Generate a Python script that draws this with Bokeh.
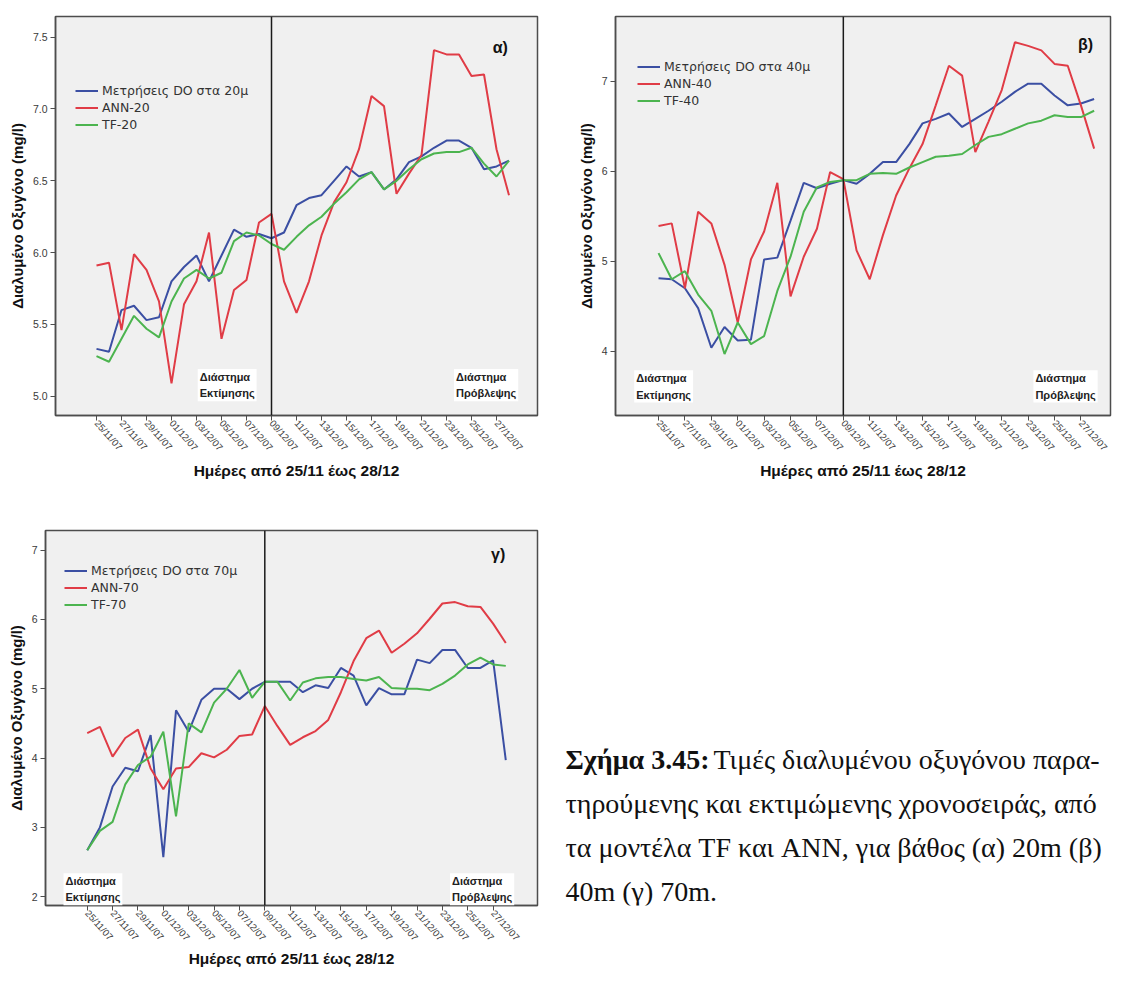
import math
from bokeh.plotting import figure
from bokeh.layouts import row, column
from bokeh.models import Range1d, FixedTicker, Span, Label, Legend, LegendItem
from bokeh.embed import file_html
from bokeh.resources import INLINE

# ---------------- data ----------------
dates = ["25/11/07", "26/11/07", "27/11/07", "28/11/07", "29/11/07", "30/11/07",
         "01/12/07", "02/12/07", "03/12/07", "04/12/07", "05/12/07", "06/12/07",
         "07/12/07", "08/12/07", "09/12/07", "10/12/07", "11/12/07", "12/12/07",
         "13/12/07", "14/12/07", "15/12/07", "16/12/07", "17/12/07", "18/12/07",
         "19/12/07", "20/12/07", "21/12/07", "22/12/07", "23/12/07", "24/12/07",
         "25/12/07", "26/12/07", "27/12/07", "28/12/07"]
tick_labels = dates[0:33:2]
split_date = "09/12/07"

do20 = [5.33, 5.31, 5.60, 5.63, 5.53, 5.55, 5.80, 5.90, 5.98, 5.80, 5.98, 6.16,
        6.11, 6.13, 6.10, 6.14, 6.33, 6.38, 6.40, 6.50, 6.60, 6.53, 6.56, 6.44,
        6.51, 6.63, 6.67, 6.73, 6.78, 6.78, 6.73, 6.58, 6.60, 6.64]
ann20 = [5.91, 5.93, 5.46, 5.99, 5.88, 5.66, 5.09, 5.64, 5.80, 6.14, 5.40, 5.74,
         5.81, 6.21, 6.27, 5.80, 5.58, 5.80, 6.12, 6.35, 6.49, 6.72, 7.09, 7.02,
         6.41, 6.55, 6.68, 7.41, 7.38, 7.38, 7.23, 7.24, 6.72, 6.40]
tf20 = [5.28, 5.24, 5.40, 5.56, 5.47, 5.41, 5.66, 5.82, 5.88, 5.82, 5.86, 6.08,
        6.14, 6.12, 6.06, 6.02, 6.11, 6.19, 6.25, 6.34, 6.42, 6.51, 6.56, 6.44,
        6.50, 6.58, 6.65, 6.69, 6.70, 6.70, 6.73, 6.62, 6.53, 6.64]

do40 = [4.81, 4.80, 4.70, 4.48, 4.04, 4.27, 4.12, 4.13, 5.02, 5.04, 5.45, 5.87,
        5.81, 5.86, 5.90, 5.86, 5.97, 6.10, 6.10, 6.30, 6.53, 6.58, 6.64, 6.49,
        6.58, 6.67, 6.77, 6.88, 6.97, 6.97, 6.84, 6.73, 6.75, 6.80]
ann40 = [5.39, 5.42, 4.70, 5.55, 5.42, 4.96, 4.32, 5.02, 5.33, 5.87, 4.61, 5.05,
         5.36, 5.99, 5.91, 5.12, 4.80, 5.29, 5.73, 6.03, 6.30, 6.73, 7.17, 7.06,
         6.21, 6.55, 6.90, 7.43, 7.39, 7.34, 7.19, 7.17, 6.73, 6.25]
tf40 = [5.09, 4.80, 4.89, 4.63, 4.45, 3.97, 4.32, 4.08, 4.17, 4.67, 5.05, 5.55,
        5.82, 5.88, 5.90, 5.90, 5.97, 5.98, 5.97, 6.04, 6.10, 6.16, 6.17, 6.19,
        6.29, 6.38, 6.41, 6.47, 6.53, 6.56, 6.62, 6.60, 6.60, 6.67]

do70 = [2.67, 3.00, 3.59, 3.86, 3.81, 4.33, 2.57, 4.69, 4.38, 4.84, 5.00, 5.00,
        4.85, 5.00, 5.10, 5.10, 5.10, 4.95, 5.05, 5.01, 5.30, 5.19, 4.76, 5.01,
        4.92, 4.92, 5.42, 5.37, 5.56, 5.56, 5.30, 5.30, 5.41, 3.97]
ann70 = [4.36, 4.45, 4.02, 4.29, 4.41, 3.85, 3.55, 3.85, 3.87, 4.07, 4.01, 4.12,
         4.32, 4.34, 4.75, 4.46, 4.19, 4.30, 4.39, 4.55, 4.95, 5.40, 5.73, 5.84,
         5.52, 5.65, 5.80, 6.01, 6.23, 6.25, 6.19, 6.18, 5.94, 5.66]
tf70 = [2.67, 2.95, 3.08, 3.62, 3.90, 4.02, 4.38, 3.16, 4.50, 4.37, 4.80, 5.00,
        5.27, 4.87, 5.10, 5.10, 4.83, 5.09, 5.15, 5.17, 5.17, 5.14, 5.12, 5.17,
        5.01, 5.00, 5.00, 4.98, 5.07, 5.19, 5.35, 5.45, 5.35, 5.33]

y_title = "Διαλυμένο Οξυγόνο (mg/l)"
x_title = "Ημέρες από 25/11 έως 28/12"
est_text = "Διάστημα\nΕκτίμησης"
pred_text = "Διάστημα\nΠρόβλεψης"
caption_bold = "Σχήμα 3.45:"
caption_lines = ["Τιμές διαλυμένου οξυγόνου παρα-",
                 "τηρούμενης και εκτιμώμενης χρονοσειράς, από",
                 "τα μοντέλα TF και ANN, για βάθος (α) 20m (β)",
                 "40m (γ) 70m."]

# ---------------- style ----------------
BLUE = "#3b4fa3"
RED = "#e03c46"
GREEN = "#4cb44f"
BG = "#f0f0f0"
FRAME = "#4d4d4d"
SANS = "Liberation Sans"

x_idx = list(range(len(dates)))
tick_pos = [dates.index(t) for t in tick_labels]
split = dates.index(split_date)


def panel(width, height, xr, yr, yticks, fmt, borders, series, names, legend_loc,
          tag, tag_xy, est_xy, pred_xy, title_standoff):
    bl, br, bt, bb = borders
    p = figure(width=width, height=height, x_range=Range1d(*xr), y_range=Range1d(*yr),
               output_backend="svg", toolbar_location=None,
               min_border_left=bl, min_border_right=br, min_border_top=bt,
               min_border_bottom=bb)
    p.background_fill_color = BG
    p.border_fill_color = "white"
    p.outline_line_color = FRAME
    p.outline_line_width = 1.5
    p.xgrid.visible = False
    p.ygrid.visible = False
    for ax in (p.xaxis[0], p.yaxis[0]):
        ax.axis_line_color = FRAME
        ax.axis_line_width = 1.5
        ax.major_tick_line_color = FRAME
        ax.major_tick_out = 5
        ax.major_tick_in = 0
        ax.minor_tick_out = 0
        ax.minor_tick_in = 0
        ax.major_label_text_font = SANS
        ax.major_label_text_color = "#3a3a3a"
        ax.axis_label_text_font = SANS
        ax.axis_label_text_font_style = "bold"
        ax.axis_label_text_color = "#111111"
    xa = p.xaxis[0]
    xa.ticker = FixedTicker(ticks=tick_pos)
    xa.major_label_overrides = {pos: lab for pos, lab in zip(tick_pos, tick_labels)}
    xa.major_label_orientation = -0.84
    xa.major_label_text_font_size = "9.5px"
    xa.major_label_standoff = 1
    xa.axis_label = x_title
    xa.axis_label_text_font_size = "15.5px"
    xa.axis_label_standoff = title_standoff
    ya = p.yaxis[0]
    ya.ticker = FixedTicker(ticks=yticks)
    ya.major_label_overrides = {t: fmt.format(t) for t in yticks}
    ya.major_label_text_font_size = "10.5px"
    ya.major_label_standoff = 3
    ya.axis_label = y_title
    ya.axis_label_text_font_size = "15px"
    ya.axis_label_standoff = 4

    rends = []
    for ys, col in zip(series, (BLUE, RED, GREEN)):
        r = p.line(x_idx, ys, line_color=col, line_width=2)
        rends.append(r)
    p.add_layout(Span(location=split, dimension="height", line_color="#1a1a1a",
                      line_width=1.5))
    items = [LegendItem(label=n, renderers=[r]) for n, r in zip(names, rends)]
    leg = Legend(items=items, location=legend_loc, border_line_color=None,
                 background_fill_alpha=0, padding=0, margin=0, spacing=0,
                 glyph_width=23, glyph_height=17, label_height=17,
                 label_standoff=4, label_text_font="DejaVu Sans",
                 label_text_font_size="12.5px", label_text_color="#333333")
    p.add_layout(leg)
    p.add_layout(Label(x=tag_xy[0], y=tag_xy[1], text=tag, text_font=SANS,
                       text_font_style="bold", text_font_size="16px",
                       text_align="center", text_baseline="middle",
                       text_color="#111111"))
    for (lx, ly), txt in ((est_xy, est_text), (pred_xy, pred_text)):
        p.add_layout(Label(x=lx, y=ly, text=txt, text_font=SANS,
                           text_font_style="bold", text_font_size="11px",
                           text_align="left", text_baseline="top",
                           text_line_height=1.36, text_color="#222222",
                           background_fill_color="white", padding=2))
    return p


# row 1 : 482 px tall, row 2 : 488 px tall
pa = panel(560, 482, (-3.28, 35.28), (4.866, 7.644), [5.0, 5.5, 6.0, 6.5, 7.0, 7.5],
           "{:.1f}", (55, 23, 16, 66), (do20, ann20, tf20),
           ["Μετρήσεις DO στα 20μ", "ANN-20", "TF-20"], (20, 282),
           "α)", (32.3, 7.43), (8.1, 5.19), (28.6, 5.19), 3)
pb = panel(554, 482, (-3.26, 34.24), (3.288, 7.716), [4, 5, 6, 7],
           "{:d}", (55, 4, 16, 66), (do40, ann40, tf40),
           ["Μετρήσεις DO στα 40μ", "ANN-40", "TF-40"], (22, 306),
           "β)", (32.35, 7.40), (-1.84, 3.79), (28.4, 3.79), 3)
pc = panel(560, 488, (-3.29, 35.5), (1.873, 7.283), [2, 3, 4, 5, 6, 7],
           "{:d}", (45, 23, 48, 58), (do70, ann70, tf70),
           ["Μετρήσεις DO στα 70μ", "ANN-70", "TF-70"], (19, 292),
           "γ)", (32.4, 6.93), (-1.87, 2.34), (28.6, 2.34), 1)

# caption panel: frame aligned with panel γ; coordinates are page pixels
cap = figure(width=554, height=488, x_range=Range1d(560, 1114), y_range=Range1d(912, 530),
             output_backend="svg", toolbar_location=None, x_axis_location=None,
             y_axis_location=None, min_border_left=0, min_border_right=0,
             min_border_top=48, min_border_bottom=58)
cap.outline_line_color = None
cap.xgrid.visible = False
cap.ygrid.visible = False
cap.background_fill_color = "white"
cap.border_fill_color = "white"
line_y = [763, 808, 853, 898]
cap.add_layout(Label(x=565, y=line_y[0], text=caption_bold, text_font="Liberation Serif",
                     text_font_style="bold", text_font_size="28px",
                     text_baseline="middle", text_color="#111111"))
for i, txt in enumerate(caption_lines):
    cap.add_layout(Label(x=713 if i == 0 else 565, y=line_y[i], text=txt,
                         text_font="Liberation Serif", text_font_size="28px",
                         text_baseline="middle", text_color="#111111"))

layout = column(row(pa, pb), row(pc, cap))
open("out.html", "w").write(file_html(layout, INLINE))
